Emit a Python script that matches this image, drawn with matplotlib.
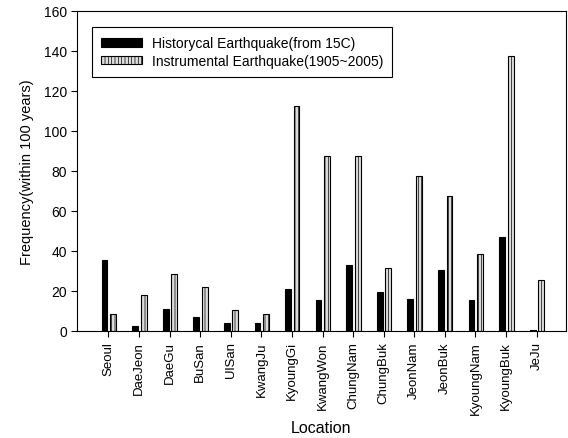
import numpy as np
import matplotlib.pyplot as plt

plt.rcParams['font.family'] = ['Liberation Sans', 'DejaVu Sans']
plt.rcParams['hatch.linewidth'] = 0.5

locations = ['Seoul', 'DaeJeon', 'DaeGu', 'BuSan', 'UlSan', 'KwangJu', 'KyoungGi',
             'KwangWon', 'ChungNam', 'ChungBuk', 'JeonNam', 'JeonBuk', 'KyoungNam',
             'KyoungBuk', 'JeJu']
historical = [35.5, 2.5, 10.7, 7.0, 3.7, 3.7, 21.0, 15.5, 33.0, 19.5, 16.0, 30.5, 15.5, 47.0, 0.5]
instrumental = [8.2, 18.0, 28.2, 22.0, 10.3, 8.3, 112.5, 87.5, 87.5, 31.5, 77.5, 67.5, 38.5, 137.5, 25.5]

fig = plt.figure(figsize=(5.68, 4.39), dpi=100)
ax = fig.add_axes([0.136, 0.244, 0.860, 0.729])

x = np.arange(len(locations))
w = 0.19
ax.bar(x - 0.13, historical, w, color='black', edgecolor='black', linewidth=0.8,
       label='Historycal Earthquake(from 15C)')
ax.bar(x + 0.15, instrumental, w, color='#dcdcdc', edgecolor='black', linewidth=0.8,
       hatch='|||||', label='Instrumental Earthquake(1905~2005)')

ax.set_xlim(-1.02, 14.95)
ax.set_ylim(0, 160)
ax.set_yticks(range(0, 161, 20))
ax.set_xticks(x)
ax.set_xticklabels(locations, rotation=90, fontsize=9.5)
ax.tick_params(axis='y', labelsize=10, direction='out', length=4)
ax.tick_params(axis='x', direction='out', length=4)
ax.set_xlabel('Location', fontsize=11.5, labelpad=4)
ax.set_ylabel('Frequency(within 100 years)', fontsize=10.5, labelpad=7)

leg = ax.legend(loc='upper left', bbox_to_anchor=(0.015, 0.97), fontsize=10, fancybox=False,
                edgecolor='black', framealpha=1, handlelength=3.0, handleheight=0.6,
                borderpad=0.65, labelspacing=0.25, handletextpad=0.7)
leg.get_frame().set_linewidth(0.8)

fig.savefig('out.png', dpi=100)
